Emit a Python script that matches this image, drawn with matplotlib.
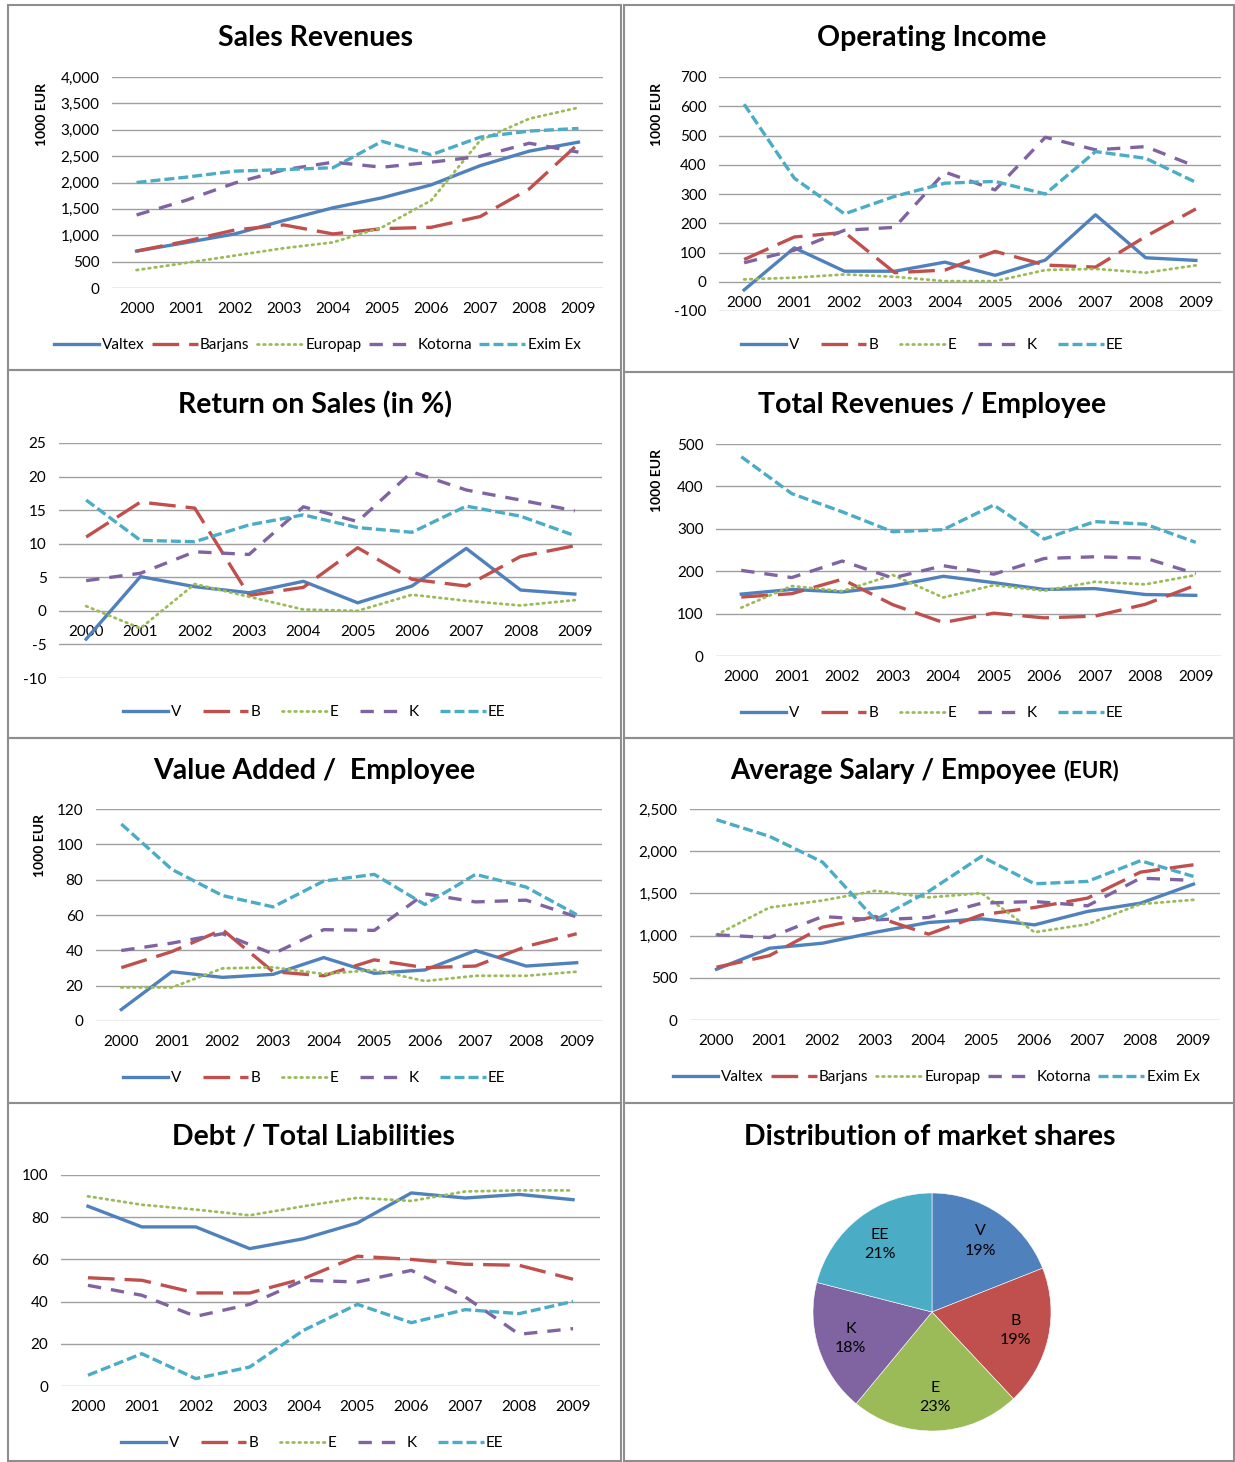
import matplotlib
matplotlib.use("Agg")
import matplotlib.pyplot as plt
import matplotlib.ticker as mticker
from matplotlib.patches import Rectangle

plt.rcParams['font.family'] = ['Lato', 'DejaVu Sans']
plt.rcParams['axes.unicode_minus'] = False

W, H = 1235, 1462

years = ['2000', '2001', '2002', '2003', '2004', '2005', '2006', '2007', '2008', '2009']
long_names = ['Valtex', 'Barjans', 'Europap', 'Kotorna', 'Exim Ex']
short_names = ['V', 'B', 'E', 'K', 'EE']

# Sales Revenues (1000 EUR)
sales_v = [700, 860, 1025, 1280, 1520, 1710, 1955, 2320, 2595, 2765]
sales_b = [700, 885, 1100, 1195, 1025, 1125, 1150, 1355, 1880, 2735]
sales_e = [340, 475, 615, 755, 865, 1150, 1660, 2800, 3210, 3420]
sales_k = [1385, 1660, 1990, 2240, 2385, 2290, 2385, 2495, 2745, 2575]
sales_ee = [2000, 2100, 2215, 2245, 2280, 2780, 2525, 2860, 2975, 3025]

# Operating Income (1000 EUR)
opinc_v = [-28, 116, 36, 36, 67, 22, 74, 229, 82, 73]
opinc_b = [76, 153, 169, 31, 40, 104, 57, 50, 155, 249]
opinc_e = [8, 14, 25, 17, 2, 2, 40, 44, 31, 56]
opinc_k = [65, 108, 176, 186, 375, 314, 494, 451, 462, 394]
opinc_ee = [607, 354, 232, 292, 337, 343, 300, 445, 422, 340]

# Return on Sales (%)
ros_v = [-4.2, 5.1, 3.6, 2.7, 4.4, 1.2, 3.7, 9.3, 3.1, 2.5]
ros_b = [11.0, 16.2, 15.3, 2.3, 3.5, 9.4, 4.7, 3.7, 8.1, 9.7]
ros_e = [0.7, -2.6, 4.0, 2.1, 0.2, 0.0, 2.4, 1.5, 0.8, 1.6]
ros_k = [4.5, 5.6, 8.8, 8.4, 15.5, 13.3, 20.7, 18.0, 16.5, 14.9]
ros_ee = [16.5, 10.5, 10.3, 12.8, 14.3, 12.4, 11.7, 15.6, 14.1, 11.2]

# Total Revenues / Employee (1000 EUR)
rev_v = [146, 157, 151, 165, 188, 173, 157, 159, 145, 143]
rev_b = [139, 147, 181, 121, 79, 101, 90, 94, 122, 167]
rev_e = [114, 165, 153, 191, 138, 167, 154, 175, 169, 191]
rev_k = [202, 185, 224, 184, 213, 193, 230, 234, 231, 194]
rev_ee = [470, 383, 340, 293, 298, 356, 276, 317, 311, 268]

# Value Added / Employee (1000 EUR)
va_v = [6.5, 27.9, 24.7, 26.4, 35.9, 27.0, 28.9, 39.9, 31.1, 33.0]
va_b = [30.2, 39.3, 51.7, 27.9, 25.6, 34.6, 30.2, 31.1, 42.2, 49.4]
va_e = [19.0, 19.0, 29.8, 30.4, 26.6, 28.9, 22.6, 25.6, 25.6, 27.9]
va_k = [39.9, 44.1, 49.4, 38.0, 51.7, 51.3, 72.0, 67.4, 68.4, 58.9]
va_ee = [111.5, 85.8, 71.0, 64.6, 79.2, 83.0, 65.9, 83.0, 75.8, 60.2]

# Average Salary / Employee (EUR)
sal_v = [601, 850, 910, 1040, 1155, 1199, 1127, 1286, 1384, 1610]
sal_b = [625, 763, 1100, 1226, 1017, 1246, 1333, 1444, 1752, 1839]
sal_e = [1009, 1333, 1416, 1531, 1452, 1503, 1040, 1135, 1373, 1424]
sal_k = [1009, 977, 1226, 1187, 1214, 1384, 1404, 1353, 1681, 1654]
sal_ee = [2373, 2176, 1871, 1187, 1523, 1938, 1614, 1642, 1887, 1701]

# Debt / Total Liabilities
debt_v = [85.2, 75.4, 75.4, 65.1, 69.8, 77.3, 91.5, 89.1, 90.8, 88.3]
debt_b = [51.3, 50.1, 44.1, 44.1, 50.9, 61.5, 60.0, 57.7, 57.2, 50.6]
debt_e = [89.9, 85.9, 83.6, 80.9, 85.2, 89.2, 87.7, 92.2, 92.7, 92.7]
debt_k = [47.7, 43.0, 33.0, 38.7, 50.1, 49.3, 54.8, 42.2, 24.5, 27.2]
debt_ee = [5.1, 15.3, 3.5, 9.0, 26.4, 38.7, 30.0, 36.2, 34.3, 40.1]

# Distribution of market shares (%)
share_labels = ['V', 'B', 'E', 'K', 'EE']
share_values = [19, 19, 23, 18, 21]

colors = ['#4F81BD', '#C0504D', '#9BBB59', '#8064A2', '#4BACC6']
styles = [
    dict(linestyle='-', linewidth=2.4),
    dict(linestyle=(0, (8, 3)), linewidth=2.4),
    dict(linestyle=(0, (0.6, 1.6)), linewidth=2.0, dash_capstyle='round'),
    dict(linestyle=(0, (4, 3)), linewidth=2.4),
    dict(linestyle=(0, (3, 1.2)), linewidth=2.4),
]

fig = plt.figure(figsize=(W / 100, H / 100), dpi=100)


def px_rect(x0, y0, x1, y1):
    return [x0 / W, 1 - y1 / H, (x1 - x0) / W, (y1 - y0) / H]


def border(x0, y0, x1, y1):
    fig.add_artist(Rectangle((x0 / W, 1 - y1 / H), (x1 - x0) / W, (y1 - y0) / H,
                             transform=fig.transFigure, fill=False,
                             edgecolor='#8e8e8e', linewidth=1.5))


def line_panel(box, title, title_xy, series, names, yticks, legend_xy,
               ylabel_x=None, comma=False, colspace=1.4):
    ax = fig.add_axes(px_rect(*box))
    x = range(len(years))
    for vals, name, c, st in zip(series, names, colors, styles):
        ax.plot(x, vals, color=c, label=name, **st)
    ax.set_xlim(-0.5, len(years) - 0.5)
    ax.set_ylim(yticks[0], yticks[-1])
    ax.set_yticks(yticks)
    if comma:
        ax.yaxis.set_major_formatter(mticker.StrMethodFormatter('{x:,.0f}'))
    ax.set_xticks(list(x))
    ax.set_xticklabels(years)
    ax.grid(axis='y', color='#a0a0a0', linewidth=1)
    ax.set_axisbelow(True)
    for s in ax.spines.values():
        s.set_visible(False)
    if yticks[0] < 0:
        ax.spines['bottom'].set_position(('data', 0))
    ax.tick_params(axis='both', length=0, labelsize=11, colors='#000000')
    ax.tick_params(axis='x', pad=10)
    ax.tick_params(axis='y', pad=9)
    if title:
        fig.text(title_xy[0] / W, 1 - title_xy[1] / H, title, ha='center',
                 va='center', fontsize=20.5, fontweight='bold')
    if ylabel_x is not None:
        yc = box[1] + 37
        fig.text(ylabel_x / W, 1 - yc / H, '1000 EUR', rotation=90, ha='center',
                 va='center', fontsize=10, fontweight='bold')
    fig.legend(*ax.get_legend_handles_labels(), loc='center',
               bbox_to_anchor=(legend_xy[0] / W, 1 - legend_xy[1] / H), ncol=5,
               frameon=False, fontsize=11, handlelength=3.0, handletextpad=0.15,
               columnspacing=colspace)
    return ax


# panel borders
border(8, 5, 621, 370)
border(624, 5, 1234, 372)
border(8, 370, 621, 738)
border(624, 372, 1234, 738)
border(8, 738, 621, 1103)
border(624, 738, 1234, 1103)
border(8, 1103, 621, 1461)
border(624, 1103, 1234, 1461)

line_panel((112, 77, 603, 288), 'Sales Revenues', (315, 38),
           [sales_v, sales_b, sales_e, sales_k, sales_ee], long_names,
           list(range(0, 4001, 500)), (317, 345), ylabel_x=42, comma=True,
           colspace=0.5)

line_panel((719, 77, 1221, 311), 'Operating Income', (932, 38),
           [opinc_v, opinc_b, opinc_e, opinc_k, opinc_ee], short_names,
           list(range(-100, 701, 100)), (932, 345), ylabel_x=657)

line_panel((59, 443, 602, 678), 'Return on Sales (in %)', (315, 405),
           [ros_v, ros_b, ros_e, ros_k, ros_ee], short_names,
           list(range(-10, 26, 5)), (314, 712))

line_panel((716, 444, 1221, 656), 'Total Revenues / Employee', (932, 405),
           [rev_v, rev_b, rev_e, rev_k, rev_ee], short_names,
           list(range(0, 501, 100)), (932, 713), ylabel_x=657)

line_panel((96, 809, 602, 1021), 'Value Added /  Employee', (314, 771),
           [va_v, va_b, va_e, va_k, va_ee], short_names,
           list(range(0, 121, 20)), (314, 1078), ylabel_x=40)

ax6 = line_panel((690, 809, 1220, 1020), '', (0, 0),
                 [sal_v, sal_b, sal_e, sal_k, sal_ee], long_names,
                 list(range(0, 2501, 500)), (936, 1077), comma=True,
                 colspace=0.5)
t6 = fig.text(730 / W, 1 - 771 / H, 'Average Salary / Empoyee', ha='left',
              va='center', fontsize=20, fontweight='bold')
ax6.annotate('(EUR)', xy=(1, 0.12), xycoords=t6, xytext=(5, 0),
             textcoords='offset points', fontsize=16, fontweight='bold',
             ha='left', va='bottom', annotation_clip=False)

line_panel((61, 1175, 600, 1386), 'Debt / Total Liabilities', (313, 1137),
           [debt_v, debt_b, debt_e, debt_k, debt_ee], short_names,
           list(range(0, 101, 20)), (312, 1443))

# pie panel
fig.text(930 / W, 1 - 1137 / H, 'Distribution of market shares', ha='center',
         va='center', fontsize=20.5, fontweight='bold')
r = 119
axp = fig.add_axes(px_rect(932 - r, 1312 - r, 932 + r, 1312 + r))
wedges, _, autotexts = axp.pie(
    share_values, colors=colors, startangle=90, counterclock=False,
    autopct='%1.0f%%', pctdistance=0.72, labels=None,
    wedgeprops=dict(edgecolor='white', linewidth=0.4),
    textprops=dict(fontsize=11.5))
for at, lab in zip(autotexts, share_labels):
    at.set_text(lab + '\n' + at.get_text())
    at.set_linespacing(1.5)
axp.set_xlim(-1, 1)
axp.set_ylim(-1, 1)
axp.set_aspect('equal')

fig.savefig('out.png', dpi=100)
